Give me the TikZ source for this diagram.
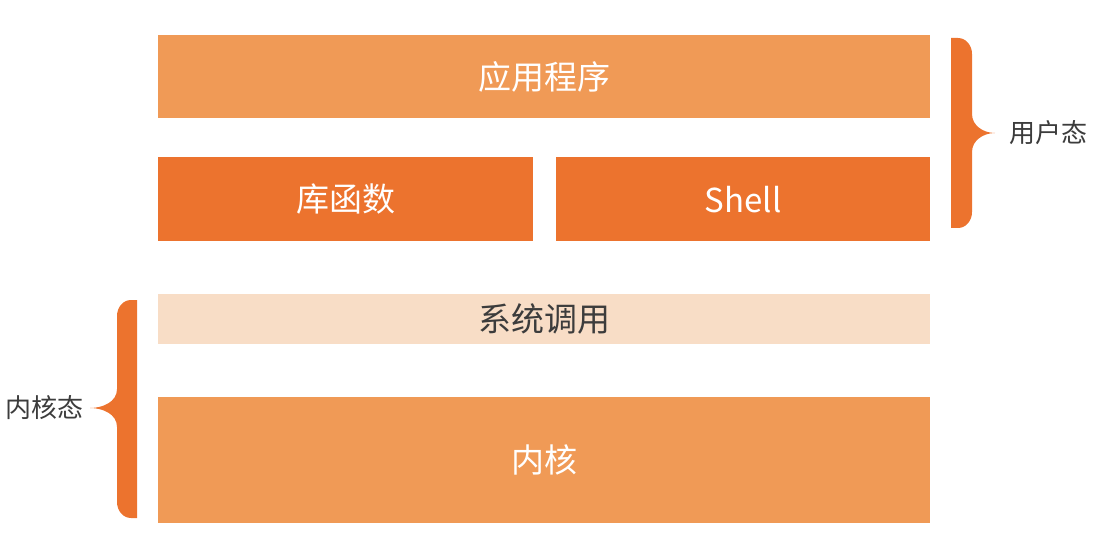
\documentclass[tikz,border=0pt]{standalone}
\usepackage{fontspec}
\setmainfont{Noto Sans CJK SC}
\usepackage{tikz}
\usetikzlibrary{positioning}

\definecolor{naranjaclaro}{HTML}{F09A56}
\definecolor{naranja}{HTML}{EC732E}
\definecolor{crema}{HTML}{F8DDC6}
\definecolor{textogris}{HTML}{3C3C3C}

\tikzset{
  capa/.style={anchor=north west, inner sep=0pt, minimum width=772pt,
    text=white, font=\fontsize{33}{36}\selectfont},
  capaclara/.style={capa, fill=naranjaclaro},
  capafuerte/.style={capa, fill=naranja, minimum width=375pt, minimum height=84pt},
  etiqueta/.style={text=textogris, font=\fontsize{26}{30}\selectfont, inner sep=0pt}
}

\begin{document}
\begin{tikzpicture}[x=1pt, y=-1pt]
		\useasboundingbox (0,0) rectangle (1098,548);
		% Capas de espacio de usuario
		\node[capaclara, minimum height=83pt] (app) at (158,35) {应用程序};
		\node[capafuerte] (lib) at (158,157) {库函数};
		\node[capafuerte, minimum width=374pt] (shell) at (556,157) {Shell};
		% Capas del kernel
		\node[capa, fill=crema, text=textogris, minimum height=50pt] (syscall) at (158,294) {系统调用};
		\node[capaclara, minimum height=126pt] (kernel) at (158,397) {内核};
		% Llave derecha (usuario)
		\fill[naranja] (951,38) -- (958,38) to[out=0, in=90] (972,54) -- (972,114)
			to[out=-90, in=180] (995,133) to[out=180, in=90] (972,152) -- (972,212)
			to[out=-90, in=0] (958,228) -- (951,228) -- cycle;
		\coordinate (puntader) at (995,133);
		\node[etiqueta, right=14pt of puntader] (usuario) {用户态};
		% Llave izquierda (kernel)
		\fill[naranja] (137,300) -- (131,300) to[out=180, in=90] (117,316) -- (117,389)
			to[out=-90, in=0] (90,408) to[out=0, in=90] (117,427) -- (117,502)
			to[out=-90, in=180] (131,518) -- (137,518) -- cycle;
		\coordinate (puntaizq) at (90,408);
		\node[etiqueta, left=6pt of puntaizq] (nucleo) {内核态};
	\end{tikzpicture}
\end{document}
